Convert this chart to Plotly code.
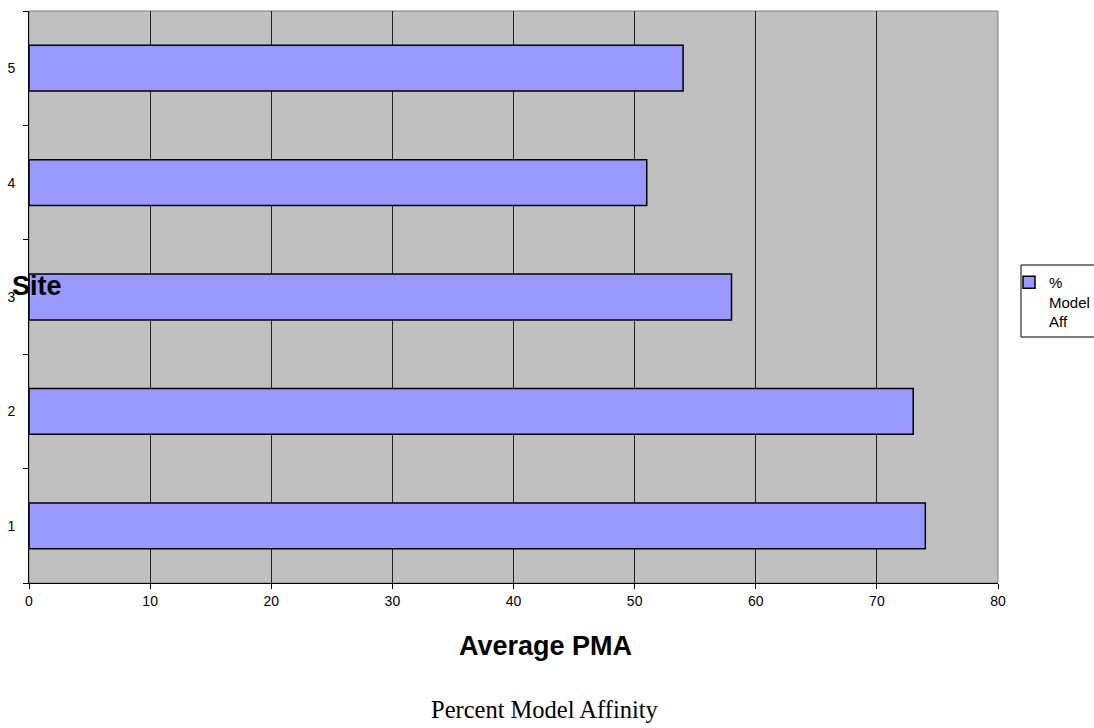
import plotly.graph_objects as go

sites = [1, 2, 3, 4, 5]
site_labels = ["1", "2", "3", "4", "5"]
pma_values = [74, 73, 58, 51, 54]
x_ticks = [0, 10, 20, 30, 40, 50, 60, 70, 80]
series_name = "%<br>Model<br>Aff"

W, H = 1094, 728
L, T, R, B = 29, 11, 998, 583
PW, PH = R - L, B - T


def px(x):
    return (x - L) / PW


def py(y):
    return (B - y) / PH


fig = go.Figure()
fig.add_trace(go.Bar(
    y=sites, x=pma_values, orientation="h", width=0.4,
    name=series_name, showlegend=True,
    marker=dict(color="#9999FF", line=dict(color="black", width=1.5)),
))

fig.update_layout(
    width=W, height=H, autosize=False,
    margin=dict(l=L, r=W - R, t=T, b=H - B, autoexpand=False),
    paper_bgcolor="white", plot_bgcolor="#C0C0C0",
    font=dict(family="Liberation Sans, Arial, sans-serif", size=14, color="black"),
    showlegend=True,
    legend=dict(
        xref="container", yref="container",
        x=1009 / W, y=1 - 266 / H, xanchor="left", yanchor="top",
        borderwidth=0, bgcolor="rgba(0,0,0,0)",
        font=dict(size=15), itemwidth=30, valign="top",
    ),
    xaxis=dict(
        range=[0, 80], tickvals=x_ticks, ticktext=[str(v) for v in x_ticks],
        showgrid=True, gridcolor="#222222", gridwidth=1,
        showline=True, linecolor="black", linewidth=1,
        ticks="outside", ticklen=5, tickcolor="black",
        zeroline=False, fixedrange=True, automargin=False,
    ),
    yaxis=dict(
        range=[0.5, 5.5], tickvals=sites, ticktext=site_labels,
        showgrid=False, showline=True, linecolor="black", linewidth=1,
        ticks="outside", ticklen=0, ticklabelstandoff=10,
        minor=dict(tick0=0.5, dtick=1, ticks="outside", ticklen=5, tickcolor="black", showgrid=False),
        zeroline=False, fixedrange=True, automargin=False,
    ),
    shapes=[
        dict(type="rect", xref="paper", yref="paper", x0=0, x1=1, y0=0, y1=1,
             line=dict(color="#808080", width=1), layer="below"),
        dict(type="rect", xref="paper", yref="paper", x0=px(1021), x1=px(1100),
             y0=py(337), y1=py(265), line=dict(color="black", width=1), fillcolor="rgba(0,0,0,0)"),
    ],
    annotations=[
        dict(text="<b>Site</b>", xref="paper", yref="paper",
             x=px(10), y=py(286), xanchor="left", yanchor="middle",
             showarrow=False, font=dict(size=27, family="Liberation Sans, Arial, sans-serif")),
        dict(text="<b>Average PMA</b>", xref="paper", yref="paper",
             x=px(545), y=py(646), xanchor="center", yanchor="middle",
             showarrow=False, font=dict(size=27, family="Liberation Sans, Arial, sans-serif")),
        dict(text="Percent Model Affinity", xref="paper", yref="paper",
             x=px(545), y=py(709), xanchor="center", yanchor="middle",
             showarrow=False, font=dict(size=24.5, family="Liberation Serif, Times New Roman, serif")),
    ],
)

post = (
    "document.documentElement.style.margin='0px';"
    "document.documentElement.style.overflow='hidden';"
    "document.body.style.margin='0px';"
    "document.body.style.padding='0px';"
    "document.body.style.overflow='hidden';"
)

fig.write_html(
    "out.html",
    config={"responsive": False, "displayModeBar": False},
    post_script=post,
)
